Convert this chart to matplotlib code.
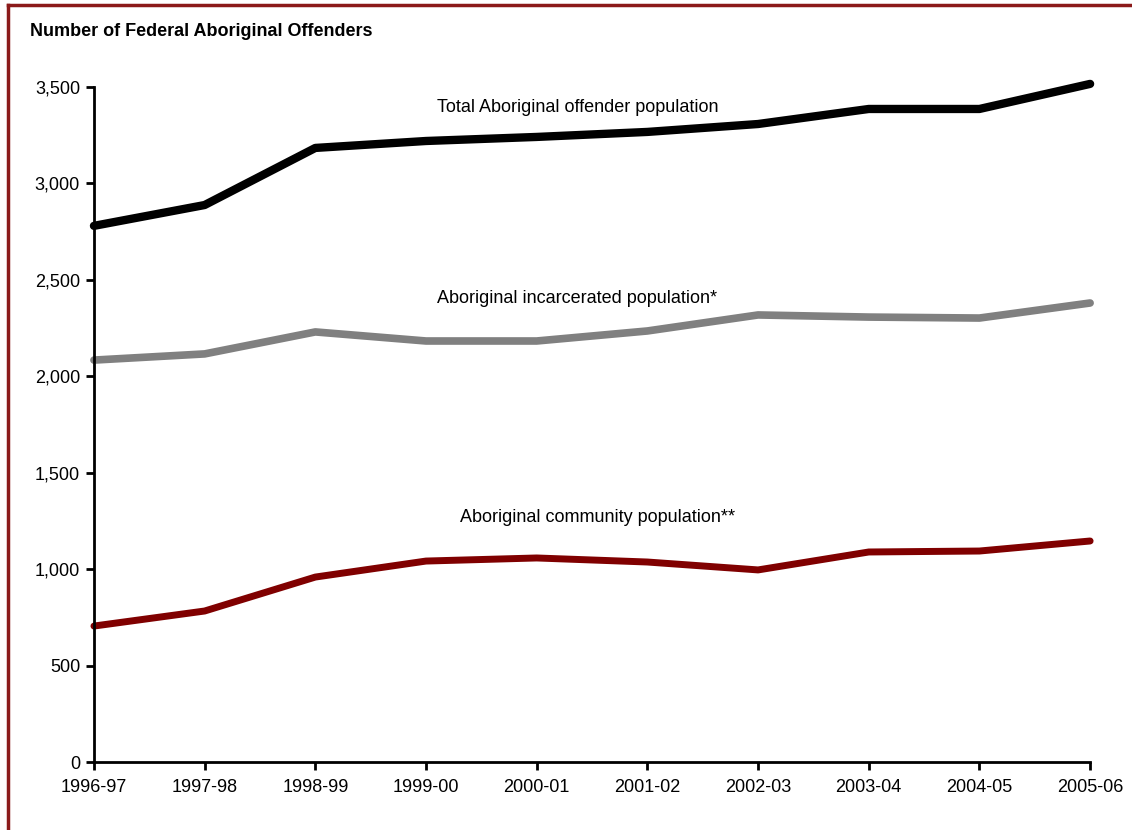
import matplotlib
matplotlib.use("Agg")
import matplotlib.pyplot as plt
from matplotlib.lines import Line2D

years = ["1996-97", "1997-98", "1998-99", "1999-00", "2000-01",
         "2001-02", "2002-03", "2003-04", "2004-05", "2005-06"]
total = [2780, 2888, 3184, 3220, 3241, 3267, 3308, 3386, 3386, 3516]
incarcerated = [2084, 2116, 2230, 2183, 2183, 2235, 2318, 2307, 2302, 2380]
community = [705, 783, 959, 1042, 1058, 1037, 996, 1089, 1094, 1146]

plt.rcParams['font.family'] = ['Liberation Sans Narrow', 'Liberation Sans', 'DejaVu Sans']

fig = plt.figure(figsize=(11.32, 8.30), dpi=100)
ax = fig.add_axes([0.083, 0.0819, 0.880, 0.8133])

x = list(range(len(years)))
ax.plot(x, total, color='black', lw=6, solid_capstyle='round', solid_joinstyle='round', clip_on=False)
ax.plot(x, incarcerated, color='#808080', lw=5.5, solid_capstyle='round', solid_joinstyle='round', clip_on=False)
ax.plot(x, community, color='#800000', lw=5, solid_capstyle='round', solid_joinstyle='round', clip_on=False)

ax.text(3.10, 3396, "Total Aboriginal offender population", fontsize=13, va='center', ha='left')
ax.text(3.10, 2401, "Aboriginal incarcerated population*", fontsize=13, va='center', ha='left')
ax.text(3.31, 1270, "Aboriginal community population**", fontsize=13, va='center', ha='left')

ax.set_xlim(0, len(years) - 1)
ax.set_ylim(0, 3500)
ax.set_xticks(x)
ax.set_xticklabels(years)
ax.set_yticks(range(0, 3501, 500))
ax.set_yticklabels([f"{v:,}" for v in range(0, 3501, 500)])
ax.tick_params(axis='both', labelsize=13, width=2, length=6, direction='out', color='black')
ax.tick_params(axis='x', pad=6)
ax.tick_params(axis='y', pad=4)
for s in ['top', 'right']:
    ax.spines[s].set_visible(False)
for s in ['left', 'bottom']:
    ax.spines[s].set_linewidth(2)

fig.text(30 / 1132, 1 - 32 / 830, "Number of Federal Aboriginal Offenders",
         fontsize=13, fontweight='bold', va='center', ha='left')

# dark red frame (top and left edges)
border = '#8B1A1A'
fig.add_artist(Line2D([8 / 1132, 1], [1 - 5 / 830, 1 - 5 / 830], color=border, lw=2.5, transform=fig.transFigure))
fig.add_artist(Line2D([8 / 1132, 8 / 1132], [0, 1 - 5 / 830], color=border, lw=2.5, transform=fig.transFigure))

fig.savefig("out.png", dpi=100)
